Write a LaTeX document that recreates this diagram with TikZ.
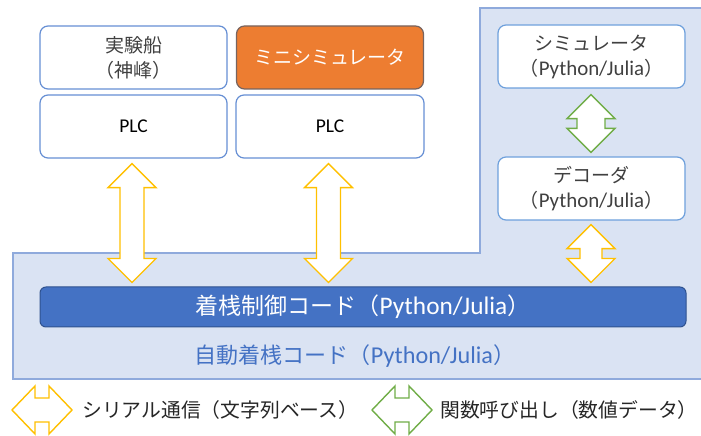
\documentclass[tikz,border=0pt]{standalone}
\usepackage{fontspec}
\setmainfont{Noto Sans CJK JP}
\newfontfamily\lat{Carlito}
\newfontfamily\latbig[Scale=1.1]{Carlito}
\usetikzlibrary{calc}
\definecolor{boxblue}{RGB}{102,143,212}
\definecolor{lightboxblue}{RGB}{110,160,220}
\definecolor{regionfill}{RGB}{218,227,243}
\definecolor{regionline}{RGB}{143,170,220}
\definecolor{barfill}{RGB}{68,114,196}
\definecolor{barline}{RGB}{47,82,143}
\definecolor{orangefill}{RGB}{237,125,49}
\definecolor{orangeline}{RGB}{120,100,95}
\definecolor{serialyellow}{RGB}{255,192,0}
\definecolor{callgreen}{RGB}{112,173,71}
\definecolor{txtgray}{RGB}{64,64,64}
\newcommand{\pyjl}{（{\latbig Python/Julia}）}
% vertical double block arrow: style, top point, bottom point, half head width, half shaft width
\newcommand{\vblockarrow}[5]{%
  \draw[#1] let \p1=#2, \p2=#3 in
    (\x1,\y1) -- (\x1+#4,\y1-24pt) -- (\x1+#5,\y1-24pt) -- (\x1+#5,\y2+24pt)
    -- (\x1+#4,\y2+24pt) -- (\x1,\y2) -- (\x1-#4,\y2+24pt) -- (\x1-#5,\y2+24pt)
    -- (\x1-#5,\y1-24pt) -- (\x1-#4,\y1-24pt) -- cycle;}
% horizontal double block arrow: style, left point, right point, half head height, half shaft height
\newcommand{\hblockarrow}[5]{%
  \draw[#1] let \p1=#2, \p2=#3 in
    (\x1,\y1) -- (\x1+23pt,\y1+#4) -- (\x1+23pt,\y1+#5) -- (\x2-23pt,\y1+#5)
    -- (\x2-23pt,\y1+#4) -- (\x2,\y1) -- (\x2-23pt,\y1-#4) -- (\x2-23pt,\y1-#5)
    -- (\x1+23pt,\y1-#5) -- (\x1+23pt,\y1-#4) -- cycle;}
\tikzset{
  box/.style={draw=boxblue, line width=1.2pt, fill=white, rounded corners=8pt,
    minimum width=187pt, minimum height=63pt, inner sep=0pt, align=center,
    text=txtgray, font=\fontsize{19}{25}\selectfont},
  pybox/.style={box, draw=lightboxblue},
  orangebox/.style={box, draw=orangeline, fill=orangefill, text=white},
  plcbox/.style={box, text=black, font=\fontsize{19.5}{25}\selectfont\lat},
  bar/.style={draw=barline, line width=1pt, fill=barfill, rounded corners=6pt,
    minimum width=646pt, minimum height=40pt, inner sep=0pt, text=white,
    font=\fontsize{23}{26}\selectfont},
  serial/.style={draw=serialyellow, line width=1.4pt, fill=white, line join=miter},
  fcall/.style={draw=callgreen, line width=1.4pt, fill=white, line join=miter},
  legendtxt/.style={anchor=west, inner sep=0pt, text=black!85, font=\fontsize{19.8}{24}\selectfont}
}
\begin{document}
\begin{tikzpicture}[x=1pt,y=1pt]
\useasboundingbox (0,0) rectangle (701,436);
% region
\draw[fill=regionfill, draw=regionline, line width=1.2pt]
  (13,183) -- (480,183) -- (480,428) -- (710,428) -- (710,57) -- (13,57) -- cycle;
\node[text=barfill, font=\fontsize{22}{26}\selectfont] (regionlabel) at (355,80) {自動着桟コード\pyjl};
% left boxes
\node[box] (ship) at (133.5,378.5) {実験船\\（神峰）};
\node[plcbox] (plc1) at (133.5,309.5) {PLC};
\node[orangebox] (mini) at (330,378.5) {ミニシミュレータ};
\node[plcbox, minimum width=188pt] (plc2) at (330,309.5) {PLC};
% right boxes
\node[pybox] (sim) at (591.5,379.5) {シミュレータ\\\pyjl};
\node[pybox] (dec) at (591.5,247.5) {デコーダ\\\pyjl};
% bar
\node[bar] (ctrl) at (363,129) {着桟制御コード\pyjl};
% arrows
\vblockarrow{serial}{($(plc1.south)+(-1.5,-5)$)}{($(ctrl.north)+(0,4)$)}{24pt}{12pt}
\vblockarrow{serial}{($(plc2.south)+(-1.5,-5)$)}{($(ctrl.north)+(0,4)$)}{24pt}{12pt}
\vblockarrow{serial}{($(dec.south)+(-0.5,-4)$)}{($(ctrl.north)+(0,4)$)}{24pt}{11pt}
\vblockarrow{fcall}{($(sim.south)+(-0.5,-6)$)}{($(dec.north)+(0,4)$)}{24pt}{14pt}
% legend
\coordinate (ly1) at (12,26);
\coordinate (ly2) at (72,26);
\coordinate (lg1) at (372,26);
\coordinate (lg2) at (432,26);
\hblockarrow{serial}{(ly1)}{(ly2)}{24pt}{12pt}
\hblockarrow{fcall}{(lg1)}{(lg2)}{24pt}{12pt}
\node[legendtxt] (lserial) at (82,26) {シリアル通信（文字列ベース）};
\node[legendtxt] (lcall) at (440,26) {関数呼び出し（数値データ）};
\end{tikzpicture}
\end{document}
